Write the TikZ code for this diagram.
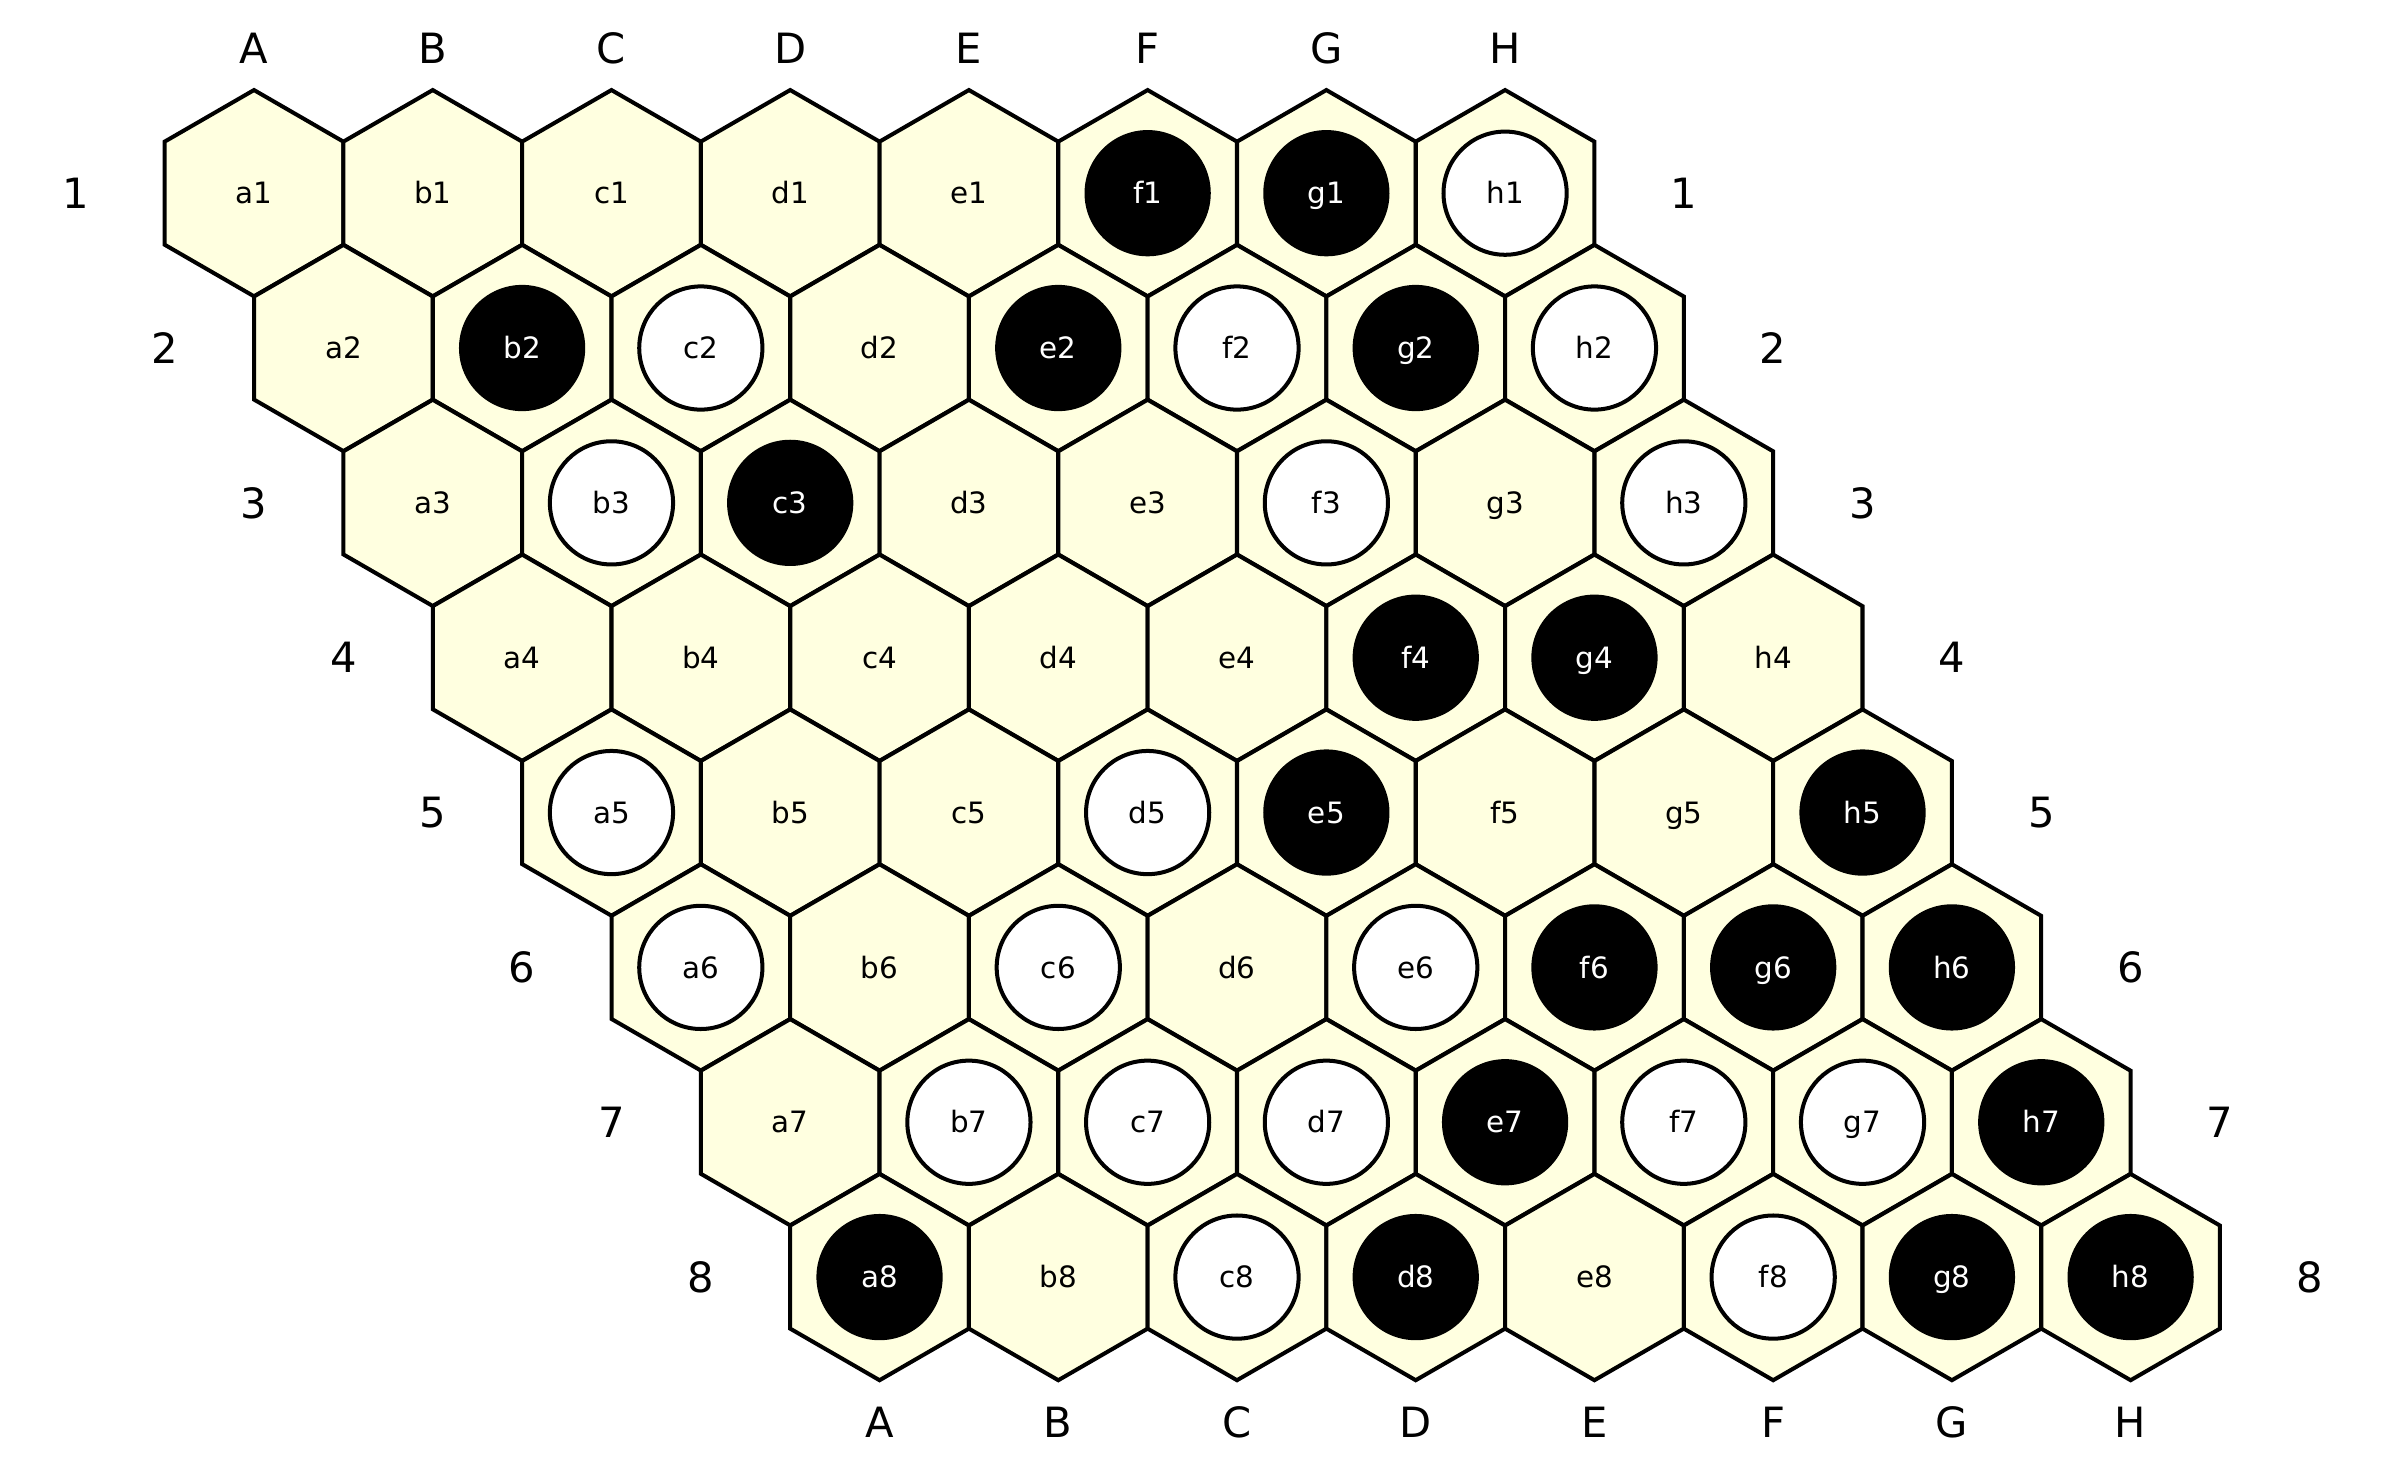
\documentclass[tikz,border=0pt]{standalone}
\usepackage{fontspec}
\setmainfont{DejaVu Sans}
\usetikzlibrary{positioning}

\definecolor{cellfill}{HTML}{FFFFE0}

\newcommand{\colname}[1]{\ifcase#1\or a\or b\or c\or d\or e\or f\or g\or h\fi}

\tikzset{
    cell/.style={draw=black, fill=cellfill, line width=0.75pt, line join=miter},
    stone e/.style={inner sep=0pt, text height=4pt, text depth=0pt,
        font=\fontsize{5.5}{6}\selectfont},
    stone b/.style={stone e, circle, fill=black, text=white, minimum size=0.83cm},
    stone w/.style={stone e, circle, draw=black, fill=white, line width=0.75pt, minimum size=0.81cm},
    edgelabel/.style={font=\fontsize{7.8}{9}\selectfont}
}

\begin{document}
\begin{tikzpicture}[scale=1.0]

    \useasboundingbox (0, 0) rectangle (15.68, -9.70);

    % Board cells, row by row (e = empty, b = black, w = white)
    \foreach \r/\cells in {
        1/{e,e,e,e,e,b,b,w},
        2/{e,b,w,e,b,w,b,w},
        3/{e,w,b,e,e,w,e,w},
        4/{e,e,e,e,e,b,b,e},
        5/{w,e,e,w,b,e,e,b},
        6/{w,e,w,e,w,b,b,b},
        7/{e,w,w,w,b,w,w,b},
        8/{b,e,w,b,e,w,b,b}}{
        \foreach \s [count=\c] in \cells {
            \pgfmathsetmacro{\x}{1.67 + (\c-1)*1.175 + (\r-1)*0.5875}
            \pgfmathsetmacro{\y}{-1.27 - (\r-1)*1.018}
            \draw[cell] (\x, \y) +(30:0.678) -- +(90:0.678) -- +(150:0.678)
                -- +(210:0.678) -- +(270:0.678) -- +(330:0.678) -- cycle;
            \node[stone \s] (\colname{\c}\r) at (\x, \y) {\colname{\c}\r};
        }
    }

    % Column letters, top and bottom
    \foreach \l [count=\c] in {A,...,H}{
        \node[edgelabel] (top\l) at (1.67 + \c*1.175 - 1.175, -0.32) {\l};
        \node[edgelabel] (bot\l) at (5.7825 + \c*1.175 - 1.175, -9.35) {\l};
    }

    % Row numbers, left and right
    \foreach \r in {1,...,8}{
        \node[edgelabel] (left\r) at (0.495 + \r*0.5875 - 0.5875, -1.27 - \r*1.018 + 1.018) {\r};
        \node[edgelabel] (right\r) at (11.07 + \r*0.5875 - 0.5875, -1.27 - \r*1.018 + 1.018) {\r};
    }

\end{tikzpicture}
\end{document}
